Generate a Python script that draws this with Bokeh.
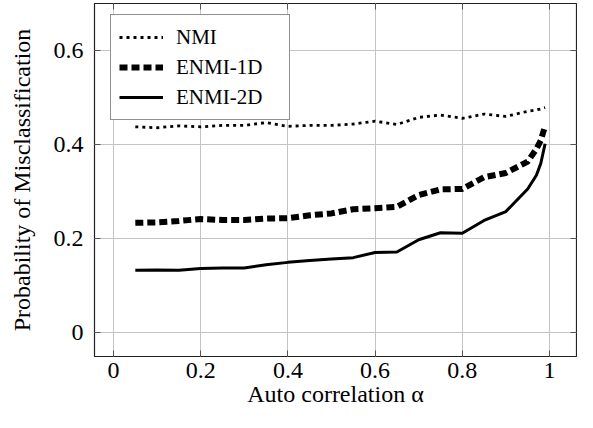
from bokeh.plotting import figure
from bokeh.models import Range1d, LinearAxis, FixedTicker, CustomJSTickFormatter, Legend, LegendItem
from bokeh.embed import file_html
from bokeh.resources import INLINE

alpha = [0.05, 0.10, 0.15, 0.20, 0.25, 0.30, 0.35, 0.40, 0.45, 0.50, 0.55,
         0.60, 0.65, 0.70, 0.75, 0.80, 0.85, 0.90, 0.95, 0.97, 0.98, 0.99]
nmi = [0.438, 0.436, 0.440, 0.438, 0.441, 0.441, 0.447, 0.439, 0.441, 0.441, 0.444,
       0.450, 0.443, 0.458, 0.463, 0.456, 0.465, 0.460, 0.471, 0.474, 0.476, 0.479]
enmi_1d = [0.234, 0.235, 0.238, 0.242, 0.240, 0.240, 0.243, 0.244, 0.250, 0.254, 0.263,
           0.265, 0.268, 0.293, 0.305, 0.306, 0.331, 0.340, 0.364, 0.391, 0.409, 0.440]
enmi_2d = [0.133, 0.134, 0.133, 0.137, 0.138, 0.138, 0.145, 0.150, 0.154, 0.157, 0.160,
           0.171, 0.172, 0.198, 0.213, 0.212, 0.239, 0.258, 0.306, 0.335, 0.360, 0.402]
x_ticks = [0, 0.2, 0.4, 0.6, 0.8, 1.0]
y_ticks = [0, 0.2, 0.4, 0.6]

FONT = "Liberation Serif"
TICK_FS = "24px"
LABEL_FS = "24px"
LEG_FS = "21px"

p = figure(width=577, height=412, output_backend="svg", toolbar_location=None,
           x_range=Range1d(-0.0436, 1.062), y_range=Range1d(-0.05, 0.70),
           min_border_left=94, min_border_right=1, min_border_top=3, min_border_bottom=56)
p.xaxis.visible = False
p.yaxis.visible = False
p.outline_line_color = "#222222"
p.outline_line_width = 1.2

fmt = CustomJSTickFormatter(code="return String(Math.round(tick*10)/10);")

def style_axis(ax, ticks, labels=True):
    ax.ticker = FixedTicker(ticks=ticks)
    ax.formatter = fmt
    ax.axis_line_color = None
    ax.major_tick_in = 6
    ax.major_tick_out = 0
    ax.minor_tick_line_color = None
    ax.major_tick_line_color = "#555555"
    ax.major_label_text_font = FONT
    ax.major_label_text_font_size = TICK_FS
    ax.major_label_text_color = "black"
    ax.axis_label_text_color = "black"
    if not labels:
        ax.major_label_text_alpha = 0
        ax.major_label_text_font_size = "1px"

bx = LinearAxis(axis_label="Auto correlation \u03b1")
style_axis(bx, x_ticks)
bx.major_label_standoff = 6
bx.axis_label_text_font = FONT
bx.axis_label_text_font_size = LABEL_FS
bx.axis_label_text_font_style = "normal"
bx.axis_label_standoff = 0
p.add_layout(bx, "below")

ly = LinearAxis(axis_label="Probability of Misclassification")
style_axis(ly, y_ticks)
ly.major_label_standoff = 11
ly.axis_label_text_font = FONT
ly.axis_label_text_font_size = LABEL_FS
ly.axis_label_text_font_style = "normal"
ly.axis_label_standoff = 16
p.add_layout(ly, "left")

ty = LinearAxis()
style_axis(ty, x_ticks, labels=False)
ty.major_label_standoff = 0
p.add_layout(ty, "above")

ry = LinearAxis()
style_axis(ry, y_ticks, labels=False)
ry.major_label_standoff = 0
p.add_layout(ry, "right")

p.xgrid.ticker = FixedTicker(ticks=x_ticks)
p.ygrid.ticker = FixedTicker(ticks=y_ticks)
p.grid.grid_line_color = "#c4c4c4"
p.grid.grid_line_width = 1

r1 = p.line(alpha, nmi, line_color="black", line_width=2.8, line_dash="3 4")
r2 = p.line(alpha, enmi_1d, line_color="black", line_width=6, line_dash="8 4")
r3 = p.line(alpha, enmi_2d, line_color="black", line_width=3)

legend = Legend(items=[LegendItem(label="NMI", renderers=[r1]),
                       LegendItem(label="ENMI-1D", renderers=[r2]),
                       LegendItem(label="ENMI-2D", renderers=[r3])],
                location=(16, 236))
legend.label_text_font = FONT
legend.label_text_font_size = LEG_FS
legend.label_text_color = "black"
legend.label_height = 28
legend.glyph_height = 28
legend.glyph_width = 44
legend.label_width = 105
legend.label_standoff = 13
legend.spacing = 2
legend.padding = 8
legend.margin = 0
legend.border_line_color = "#222222"
legend.border_line_width = 1.2
legend.background_fill_alpha = 1
p.add_layout(legend, "center")

open("out.html", "w").write(file_html(p, INLINE))
